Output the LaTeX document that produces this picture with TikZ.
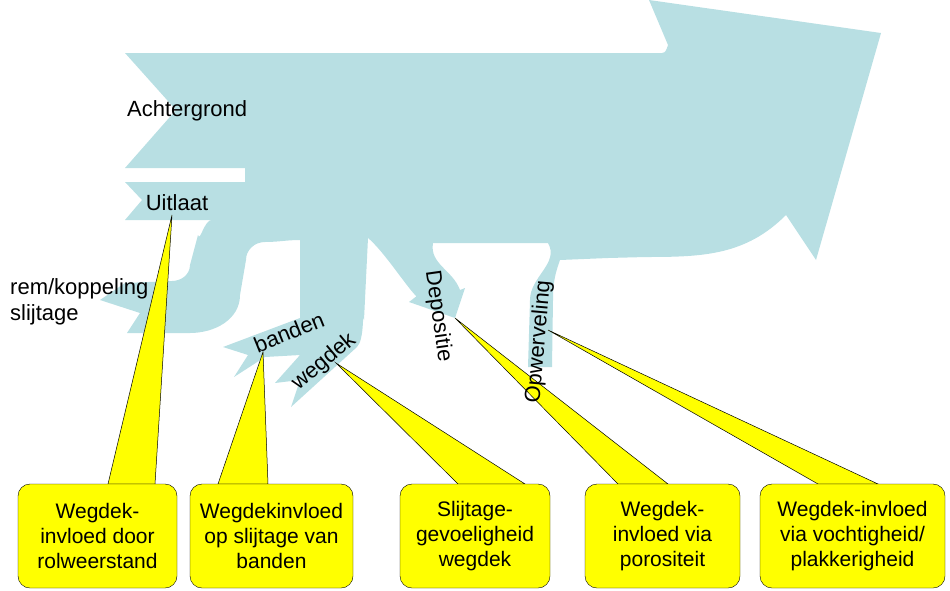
\documentclass[tikz,border=0pt]{standalone}
\usepackage{fontspec}
\setmainfont{Liberation Sans}
\definecolor{flow}{RGB}{184,223,227}
\definecolor{yel}{RGB}{255,255,0}
\begin{document}
\begin{tikzpicture}[x=1pt,y=-1pt,
  lbl/.style={font=\fontsize{22}{24}\selectfont, inner sep=0pt},
  box/.style={draw=black, fill=yel, rounded corners=12pt, minimum width=#1, minimum height=104pt, align=center, font=\fontsize{21}{25}\selectfont},
  wedge/.style={draw=black, fill=yel, line width=0.5pt}]
\useasboundingbox (0,0) rectangle (950,590);
% main flow
\fill[flow] (125,53) -- (662,53) to[out=0,in=-110] (668,45) -- (649,0) -- (881,33)
  -- (816,260) -- (786,215) to[out=-135,in=0] (646,257) -- (608,258)
  -- (560,260) to[out=-110,in=90] (553,300) -- (552,367) -- (528,367) -- (530,300) to[out=90,in=-60] (548,243)
  -- (433,243) to[out=-100,in=110] (460,290) -- (465,288) -- (455,318) -- (409,302) -- (422,292)
  to[out=-80,in=-40] (368,238)
  -- (364,320) to[out=100,in=45] (357,347) -- (291,407) -- (300,380) -- (275,383) -- (300,355)
  -- (265,357) -- (234,377) -- (248,355) -- (223,347) -- (300,318) -- (300,240)
  to[out=180,in=0] (265,242) to[out=180,in=90] (246,260) -- (240,295) to[out=-90,in=0] (190,333)
  -- (127,333) -- (140,313) -- (100,300) -- (125,283)
  -- (172,281) to[out=0,in=-90] (190,265) -- (198,235) to[out=-75,in=180] (212,220)
  -- (125,220) -- (142,200) -- (125,182) -- (245,182) -- (245,168)
  -- (125,168) -- (176,110) -- cycle;
% callout wedges
\coordinate (p1) at (172,215);
\coordinate (p2) at (263,352);
\coordinate (p3) at (336,363);
\coordinate (p4) at (455,318);
\coordinate (p5) at (548,330);
\draw[wedge] (p1) -- (155,484) -- (108,484) -- cycle;
\draw[wedge] (p2) -- (268,484) -- (218,484) -- cycle;
\draw[wedge] (p3) -- (525,484) -- (458,484) -- cycle;
\draw[wedge] (p4) -- (668,484) -- (618,484) -- cycle;
\draw[wedge] (p5) -- (878,484) -- (818,484) -- cycle;
% labels
\node[lbl, anchor=west] (ach) at (127,111) {Achtergrond};
\node[lbl] (uit) at (177,203) {Uitlaat};
\node[lbl, anchor=west, align=left] (rem) at (10,302) {rem/koppeling\\[2pt]slijtage};
\node[lbl, rotate=22] (ban) at (289,332) {banden};
\node[lbl, rotate=40] (weg) at (324,362) {wegdek};
\node[lbl, rotate=-82] (dep) at (438,316) {Depositie};
\node[lbl, rotate=85] (opw) at (539,342) {Opwerveling};
% boxes
\node[box=159pt] (b1) at (97.5,536) {Wegdek-\\invloed door\\rolweerstand};
\node[box=163pt] (b2) at (271.5,536) {Wegdekinvloed\\op slijtage van\\banden};
\node[box=150pt] (b3) at (475,536) {Slijtage-\\gevoeligheid\\wegdek};
\node[box=155pt] (b4) at (662.5,536) {Wegdek-\\invloed via\\porositeit};
\node[box=185pt] (b5) at (852.5,536) {Wegdek-invloed\\via vochtigheid/\\plakkerigheid};
\end{tikzpicture}
\end{document}
